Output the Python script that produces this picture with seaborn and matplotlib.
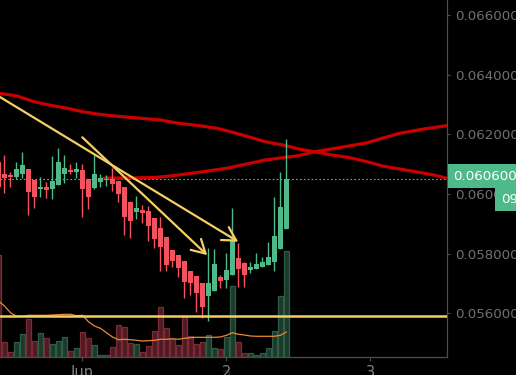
import numpy as np
import pandas as pd
import matplotlib
matplotlib.use('Agg')
import matplotlib.pyplot as plt
import seaborn as sns

# hourly candles, hour 0 = 1 Jun 00:00
hours = list(range(-14, 35))
opens = [0.06107, 0.06067, 0.06062, 0.06058, 0.06068, 0.06084, 0.06047, 0.06017, 0.06023, 0.06017,
         0.06031, 0.06068, 0.06080, 0.06074, 0.06080, 0.06050, 0.06021, 0.06041, 0.06047, 0.06050,
         0.06044, 0.06024, 0.05974, 0.05941, 0.05946, 0.05944, 0.05919, 0.05887, 0.05856, 0.05812,
         0.05796, 0.05775, 0.05742, 0.05725, 0.05702, 0.05659, 0.05676, 0.05722, 0.05713, 0.05728,
         0.05785, 0.05770, 0.05745, 0.05749, 0.05756, 0.05762, 0.05773, 0.05816, 0.05883]
highs = [0.06131, 0.06131, 0.06074, 0.06107, 0.06141, 0.06085, 0.06048, 0.06057, 0.06040, 0.06127,
         0.06154, 0.06131, 0.06101, 0.06107, 0.06101, 0.06051, 0.06131, 0.06067, 0.06064, 0.06087,
         0.06045, 0.06025, 0.05975, 0.05994, 0.05963, 0.05960, 0.05920, 0.05924, 0.05857, 0.05813,
         0.05797, 0.05776, 0.05743, 0.05726, 0.05703, 0.05819, 0.05816, 0.05728, 0.05802, 0.05953,
         0.05836, 0.05773, 0.05772, 0.05802, 0.05790, 0.05839, 0.05991, 0.06075, 0.06184]
lows = [0.06013, 0.06004, 0.06023, 0.06050, 0.06054, 0.05930, 0.05953, 0.05991, 0.05988, 0.05983,
        0.06030, 0.06037, 0.06067, 0.06055, 0.05924, 0.05950, 0.06017, 0.06024, 0.06027, 0.06011,
        0.05974, 0.05863, 0.05853, 0.05917, 0.05904, 0.05843, 0.05820, 0.05743, 0.05743, 0.05755,
        0.05722, 0.05652, 0.05661, 0.05605, 0.05584, 0.05575, 0.05675, 0.05685, 0.05685, 0.05727,
        0.05688, 0.05688, 0.05736, 0.05748, 0.05755, 0.05761, 0.05743, 0.05815, 0.05882]
closes = [0.06023, 0.06055, 0.06057, 0.06084, 0.06097, 0.06008, 0.05991, 0.06023, 0.06013, 0.06044,
          0.06107, 0.06087, 0.06074, 0.06084, 0.06017, 0.05991, 0.06067, 0.06054, 0.06050, 0.06034,
          0.06000, 0.05924, 0.05910, 0.05954, 0.05937, 0.05893, 0.05849, 0.05823, 0.05762, 0.05775,
          0.05752, 0.05706, 0.05701, 0.05667, 0.05622, 0.05702, 0.05765, 0.05709, 0.05745, 0.05842,
          0.05749, 0.05728, 0.05756, 0.05765, 0.05773, 0.05790, 0.05859, 0.05957, 0.06049]
volumes = [102, 15, 5, 15, 22.7, 37.7, 16, 24, 18.7, 13,
           16, 20, 6, 9, 25, 18.7, 12, 2, 2, 9.7,
           32, 30, 14, 12.7, 5, 11, 26, 50, 28.7, 17.7,
           12, 40.7, 20.7, 12.7, 15, 21.7, 8.7, 7.7, 20, 71,
           15, 3.7, 3.7, 1.7, 3.7, 8.7, 26, 61, 106]
volume_ma = [56, 51, 44.3, 40.7, 40.7, 41.7, 41.7, 41.7, 41.7, 42,
             42.3, 42.7, 42.7, 41.3, 41.7, 35.3, 31, 28.7, 24.3, 20,
             17.3, 17.7, 17.3, 16.7, 16, 16.3, 16.7, 17.7, 17.7, 18.3,
             17.7, 18.7, 19.3, 19.7, 19.7, 19.7, 19.7, 20, 21.7, 24.3,
             22.7, 22, 21, 20.7, 20.7, 20.7, 20.7, 21.7, 25]

# moving averages (red)
ma_slow_hours = [-14, -11, -8, -5.5, -2.5, 0, 2.5, 5.5, 8.5, 13, 16, 19.5, 22.5, 25,
                 28, 30.5, 33.5, 36, 38.5, 41.5, 44.5, 47.5, 50, 53, 55.5, 58.5, 60.7]
ma_slow = [0.06338, 0.06329, 0.06309, 0.06298, 0.06287, 0.06276, 0.06268, 0.06261, 0.06256,
           0.06248, 0.06237, 0.06229, 0.06220, 0.06207, 0.06190, 0.06175, 0.06164, 0.06151,
           0.06142, 0.06131, 0.06122, 0.06108, 0.06094, 0.06083, 0.06075, 0.06064, 0.06053]
ma_fast_hours = [3.5, 8.5, 12, 15, 19.5, 24, 27.5, 30.5, 33.5, 36, 38.5, 41.5, 44.5, 47.5,
                 50, 53, 57, 60.7]
ma_fast = [0.06053, 0.06054, 0.06055, 0.06061, 0.06073, 0.06086, 0.06101, 0.06114, 0.06122,
           0.06128, 0.06141, 0.06151, 0.06161, 0.06172, 0.06187, 0.06204, 0.06218, 0.06229]

# drawings
arrow_starts = [(-13.75, 0.06325), (-0.03, 0.06190)]
arrow_tips = [(25.97, 0.05840), (20.8, 0.05795)]
support_level = 0.05590

price_ticks = [0.056, 0.058, 0.060, 0.062, 0.064, 0.066]
day_ticks = [0, 24, 48]
day_labels = ['Jun', '2', '3']
last_price = 0.0606
last_price_label = '0.060600'
timer_label = '09'
timer_price = 0.05981

up_col = '#4fb98a'
down_col = '#f5525f'
yellow = '#f6cf63'
ma_red = '#c80000'

sns.set_theme(style='dark', rc={'axes.facecolor': 'black', 'figure.facecolor': 'black',
                                'axes.edgecolor': '#4d4d4d', 'font.family': 'DejaVu Sans'})

fig = plt.figure(figsize=(5.16, 3.75), dpi=100)
rect = [0, 18 / 375, 446.5 / 516, 357 / 375]
ax_vol = fig.add_axes(rect)
ax = fig.add_axes(rect, sharex=ax_vol)
ax.patch.set_alpha(0)

df = pd.DataFrame({'hour': hours, 'open': opens, 'high': highs, 'low': lows,
                   'close': closes, 'volume': volumes, 'vol_ma': volume_ma})
df['dir'] = np.where(df['close'] >= df['open'], 'up', 'down')

# volume
sns.barplot(data=df, x='hour', y='volume', hue='dir', palette={'up': '#1b3a2b', 'down': '#4f1b22'},
            native_scale=True, dodge=False, width=0.85, saturation=1, errorbar=None,
            legend=False, linewidth=0.9, edgecolor='#2e5c45', ax=ax_vol)
for p in ax_vol.patches:
    fc = p.get_facecolor()
    if fc[0] > fc[1]:
        p.set_edgecolor('#7b2b36')
sns.lineplot(data=df, x='hour', y='vol_ma', color='#e8893a', lw=0.9, ax=ax_vol)
ax_vol.set_ylim(0, 357)
ax_vol.set_yticks([])
ax_vol.set_xlabel('')
ax_vol.set_ylabel('')
for s in ax_vol.spines.values():
    s.set_visible(False)

# price
ax.axhline(closes[-1], color=up_col, ls=(0, (1.5, 2)), lw=0.8, zorder=1)
sns.lineplot(x=ma_slow_hours, y=ma_slow, color=ma_red, lw=2.3, ax=ax, zorder=2)
sns.lineplot(x=ma_fast_hours, y=ma_fast, color=ma_red, lw=2.3, ax=ax, zorder=2)

colors = [up_col if d == 'up' else down_col for d in df['dir']]
ax.vlines(df['hour'], df['low'], df['high'], colors=colors, lw=1.0, zorder=3)
body_low = np.minimum(df['open'], df['close'])
body_h = np.maximum(np.abs(df['close'] - df['open']), 0.00003)
ax.bar(df['hour'], body_h, bottom=body_low, width=0.75, color=colors, lw=0, zorder=3)

ax.axhline(support_level, color=yellow, lw=1.8, zorder=4)
for st, tip in zip(arrow_starts, arrow_tips):
    ax.annotate('', xy=tip, xytext=st,
                arrowprops=dict(arrowstyle='->,head_length=0.8,head_width=0.45', color=yellow,
                                lw=1.6, shrinkA=0, shrinkB=0), zorder=4)

ax.set_xlim(-13.75, 60.7)
ax.set_ylim(0.054535, 0.066503)
ax.set_xlabel('')
ax.set_ylabel('')
ax.yaxis.tick_right()
ax.set_yticks(price_ticks)
ax.set_yticklabels(['%.6f' % t for t in price_ticks])
ax.set_xticks(day_ticks)
ax.set_xticklabels(day_labels)
ax.tick_params(axis='y', length=2.5, pad=3.5, width=0.8, color='#4d4d4d',
               labelcolor='#707070', labelsize=9.6, right=True, left=False)
ax.tick_params(axis='x', length=3, pad=3, width=0.8, color='#4d4d4d',
               labelcolor='#808080', labelsize=10.5, bottom=True)
ax.grid(False)
ax_vol.grid(False)
for side in ['top', 'left']:
    ax.spines[side].set_visible(False)
for side in ['right', 'bottom']:
    ax.spines[side].set_color('#4d4d4d')
    ax.spines[side].set_linewidth(0.9)

# price labels on the scale
ax.annotate(last_price_label, xy=(1, last_price), xycoords=('axes fraction', 'data'),
            xytext=(5, 0), textcoords='offset points', ha='left', va='center',
            color='white', fontsize=9.6, annotation_clip=False, zorder=10,
            bbox=dict(boxstyle='square,pad=0.4', fc=up_col, ec='none'))
ax.annotate(timer_label, xy=(1, timer_price), xycoords=('axes fraction', 'data'),
            xytext=(39, 0), textcoords='offset points', ha='left', va='center',
            color='white', fontsize=9.6, annotation_clip=False, zorder=10,
            bbox=dict(boxstyle='square,pad=0.4', fc=up_col, ec='none'))

fig.savefig('out.png', dpi=100, facecolor='black')
